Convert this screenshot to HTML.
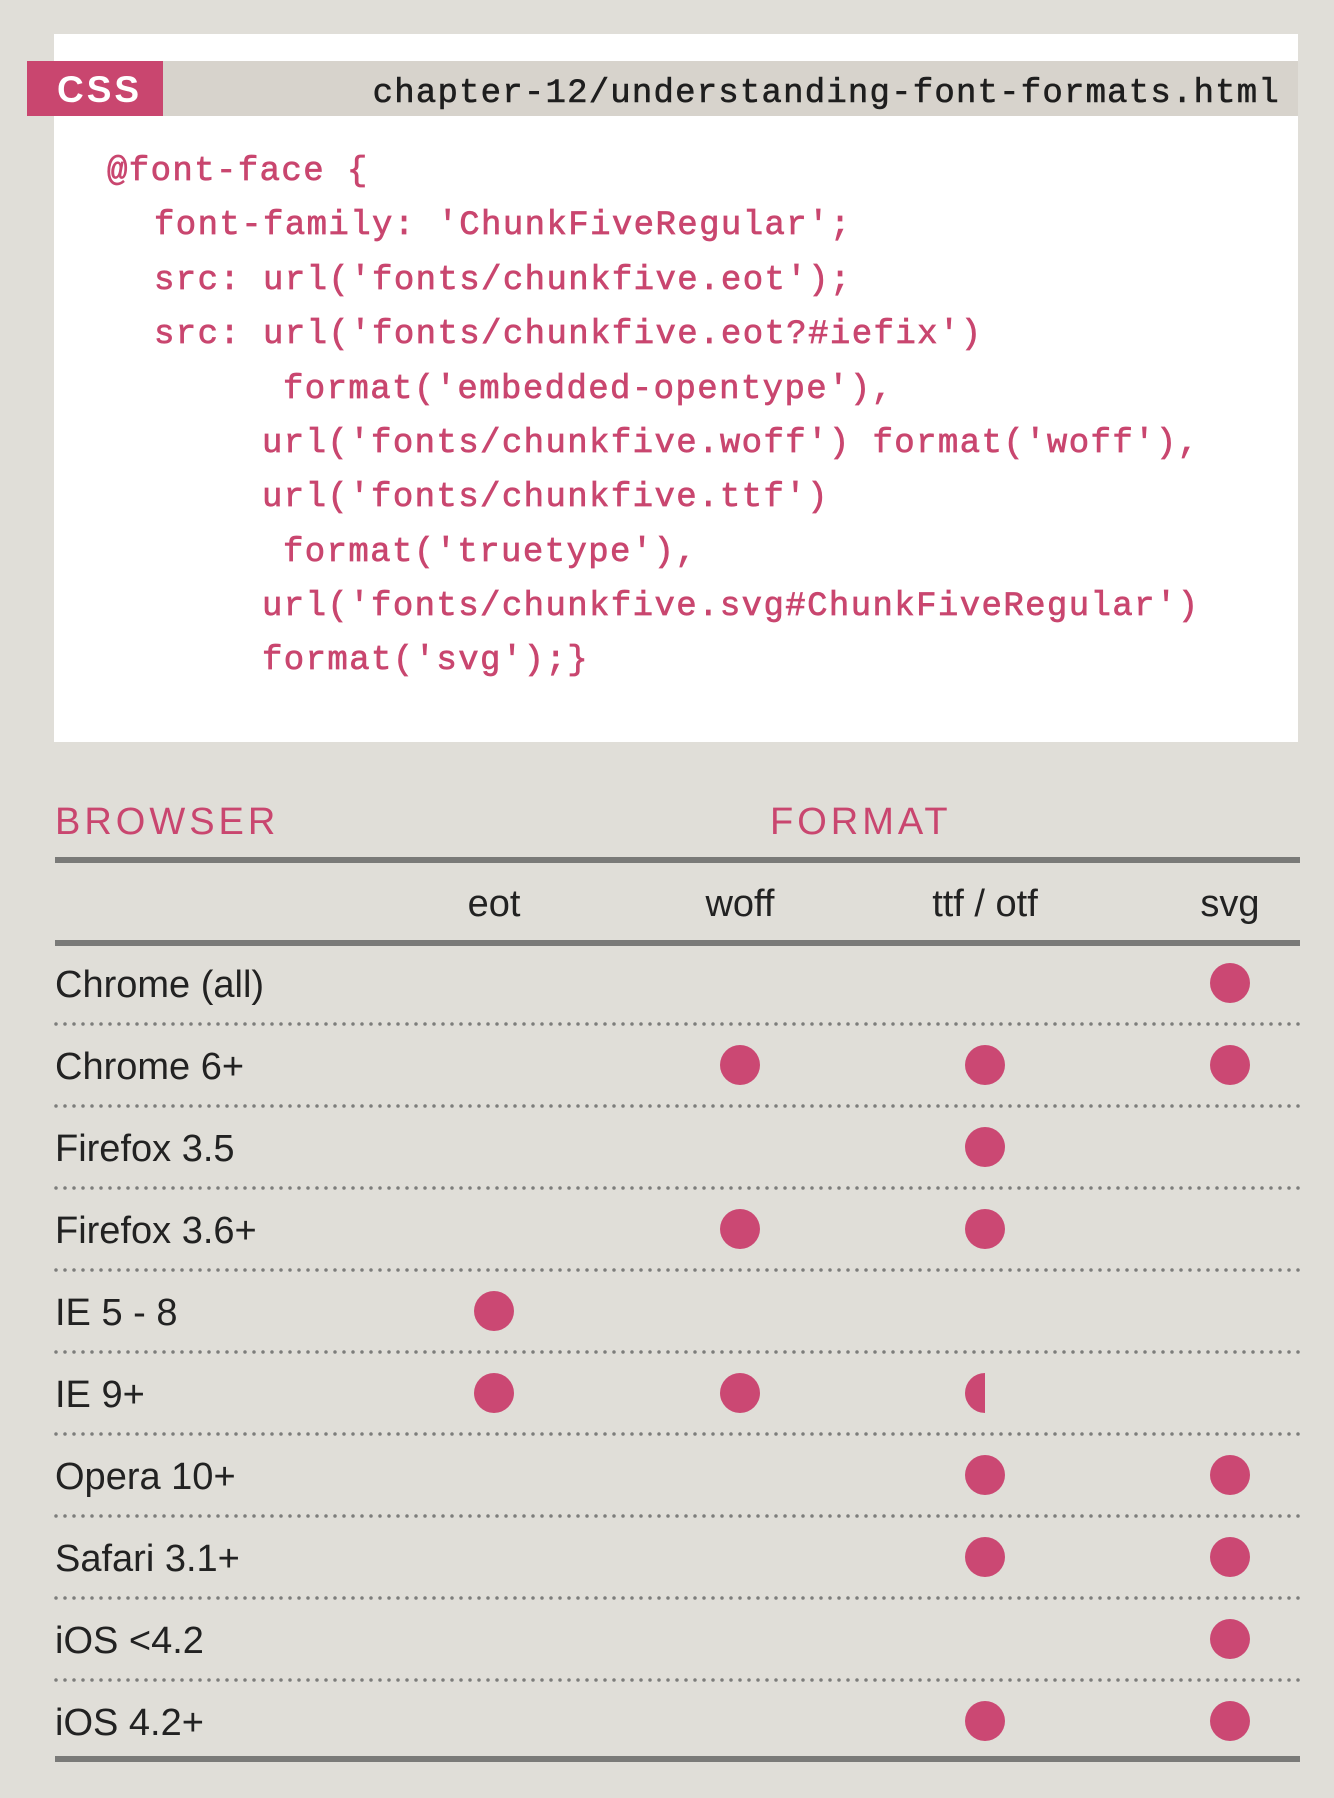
<!DOCTYPE html>
<html><head><meta charset="utf-8"><style>
html,body{margin:0;padding:0;background:#e0ded8;}
svg{display:block;}
.code{font-family:"Liberation Mono",monospace;font-size:34px;letter-spacing:1.4px;fill:#c9466f;stroke:#c9466f;stroke-width:0.7px;}
.lab{font-family:"Liberation Sans",sans-serif;font-size:38px;fill:#222;}
.hd{font-family:"Liberation Sans",sans-serif;font-size:38px;fill:#c9466f;letter-spacing:4px;}
</style></head><body>
<svg width="1334" height="1798" viewBox="0 0 1334 1798" xmlns="http://www.w3.org/2000/svg">
<rect width="1334" height="1798" fill="#e0ded8"/>
<rect x="54" y="34" width="1244" height="708" fill="#ffffff"/>
<rect x="54" y="61" width="1244" height="55" fill="#d7d3cc"/>
<rect x="27" y="61" width="136" height="55" fill="#c9466f"/>
<text x="57" y="102" font-family="Liberation Sans,sans-serif" font-weight="bold" font-size="37" fill="#fff" letter-spacing="3">CSS</text>
<text x="1280" y="102" text-anchor="end" font-family="Liberation Mono,monospace" font-size="34" letter-spacing="1.2" fill="#1e1e1e" stroke="#1e1e1e" stroke-width="0.6">chapter-12/understanding-font-formats.html</text>
<text class="code" x="107" y="180">@font-face {</text>
<text class="code" x="154" y="234">font-family: 'ChunkFiveRegular';</text>
<text class="code" x="154" y="289">src: url('fonts/chunkfive.eot');</text>
<text class="code" x="154" y="343">src: url('fonts/chunkfive.eot?#iefix')</text>
<text class="code" x="283" y="398">format('embedded-opentype'),</text>
<text class="code" x="262" y="452">url('fonts/chunkfive.woff') format('woff'),</text>
<text class="code" x="262" y="506">url('fonts/chunkfive.ttf')</text>
<text class="code" x="283" y="561">format('truetype'),</text>
<text class="code" x="262" y="615">url('fonts/chunkfive.svg#ChunkFiveRegular')</text>
<text class="code" x="262" y="669">format('svg');}</text>

<text class="hd" x="55" y="834">BROWSER</text>
<text class="hd" x="770" y="834">FORMAT</text>
<rect x="55" y="857" width="1245" height="6" fill="#7a7a78"/>
<text class="lab" x="494" y="916" text-anchor="middle">eot</text>
<text class="lab" x="740" y="916" text-anchor="middle">woff</text>
<text class="lab" x="985" y="916" text-anchor="middle">ttf / otf</text>
<text class="lab" x="1230" y="916" text-anchor="middle">svg</text>
<rect x="55" y="940" width="1245" height="6" fill="#7a7a78"/>
<rect x="55" y="1756" width="1245" height="6" fill="#7a7a78"/>
<g stroke="#7d7d7b" stroke-width="3.5" stroke-linecap="round" stroke-dasharray="0 9">
<line x1="56" x2="1300" y1="1024" y2="1024"/><line x1="56" x2="1300" y1="1106" y2="1106"/>
<line x1="56" x2="1300" y1="1188" y2="1188"/><line x1="56" x2="1300" y1="1270" y2="1270"/>
<line x1="56" x2="1300" y1="1352" y2="1352"/><line x1="56" x2="1300" y1="1434" y2="1434"/>
<line x1="56" x2="1300" y1="1516" y2="1516"/><line x1="56" x2="1300" y1="1598" y2="1598"/>
<line x1="56" x2="1300" y1="1680" y2="1680"/>
</g>
<text class="lab" x="55" y="997">Chrome (all)</text>
<text class="lab" x="55" y="1079">Chrome 6+</text>
<text class="lab" x="55" y="1161">Firefox 3.5</text>
<text class="lab" x="55" y="1243">Firefox 3.6+</text>
<text class="lab" x="55" y="1325">IE 5 - 8</text>
<text class="lab" x="55" y="1407">IE 9+</text>
<text class="lab" x="55" y="1489">Opera 10+</text>
<text class="lab" x="55" y="1571">Safari 3.1+</text>
<text class="lab" x="55" y="1653">iOS &lt;4.2</text>
<text class="lab" x="55" y="1735">iOS 4.2+</text>
<g fill="#cb4873">
<circle cx="1230" cy="983" r="20"/>
<circle cx="740" cy="1065" r="20"/><circle cx="985" cy="1065" r="20"/><circle cx="1230" cy="1065" r="20"/>
<circle cx="985" cy="1147" r="20"/>
<circle cx="740" cy="1229" r="20"/><circle cx="985" cy="1229" r="20"/>
<circle cx="494" cy="1311" r="20"/>
<circle cx="494" cy="1393" r="20"/><circle cx="740" cy="1393" r="20"/>
<path d="M985 1373 A20 20 0 0 0 985 1413 Z"/>
<circle cx="985" cy="1475" r="20"/><circle cx="1230" cy="1475" r="20"/>
<circle cx="985" cy="1557" r="20"/><circle cx="1230" cy="1557" r="20"/>
<circle cx="1230" cy="1639" r="20"/>
<circle cx="985" cy="1721" r="20"/><circle cx="1230" cy="1721" r="20"/>
</g>
</svg>
</body></html>
